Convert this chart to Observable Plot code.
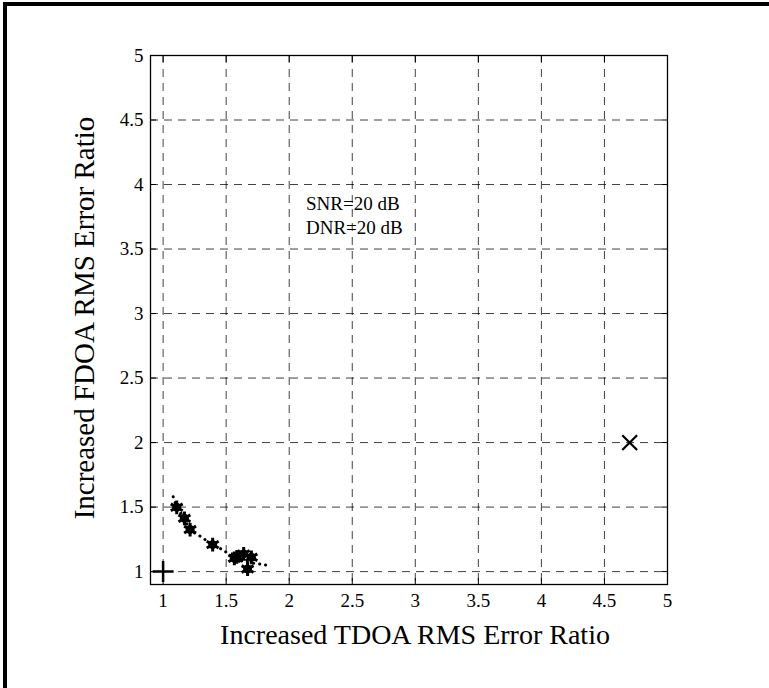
<!DOCTYPE html>
<html>
<head>
<meta charset="utf-8">
<script src="https://cdn.jsdelivr.net/npm/d3@7"></script>
<script src="https://cdn.jsdelivr.net/npm/@observablehq/plot@0.6"></script>
<style>
  html, body { margin: 0; padding: 0; background: #fff; }
  #wrap { position: relative; width: 769px; height: 688px; overflow: hidden; }
  #border { position: absolute; left: 3px; top: 2px; width: 800px; height: 800px;
            border-left: 4px solid #000; border-top: 4px solid #000; box-sizing: border-box; }
  #chart { position: absolute; left: 0; top: 0; }
</style>
</head>
<body>
<div id="wrap"><div id="border"></div><div id="chart"></div></div>
<script>
// Tick values (both axes)
const ticks = [1, 1.5, 2, 2.5, 3, 3.5, 4, 4.5, 5];

// Dotted trajectory curve
const curveX = [1.08, 1.11, 1.17, 1.21, 1.30, 1.39, 1.47, 1.565, 1.63, 1.72, 1.79, 1.86];
const curveY = [1.58, 1.50, 1.41, 1.33, 1.27, 1.21, 1.17, 1.105, 1.08, 1.065, 1.055, 1.045];

// Asterisk markers
const starX = [1.108, 1.169, 1.214, 1.393, 1.565, 1.585, 1.639, 1.70, 1.67];
const starY = [1.498, 1.413, 1.326, 1.209, 1.103, 1.115, 1.137, 1.111, 1.02];

// Plus marker (reference) and cross marker
const plusX = [1], plusY = [1];
const crossX = [4.7], crossY = [2];

// Annotation
const noteLines = ["SNR=20 dB", "DNR=20 dB"];
const noteX = [2.133, 2.133];
const noteY = [3.80, 3.62];

const curve = curveX.map((x, i) => ({x, y: curveY[i]}));
const stars = starX.map((x, i) => ({x, y: starY[i]}));
const plus = plusX.map((x, i) => ({x, y: plusY[i]}));
const cross = crossX.map((x, i) => ({x, y: crossY[i]}));
const notes = noteLines.map((t, i) => ({t, x: noteX[i], y: noteY[i]}));

const serif = "'Liberation Serif', 'Times New Roman', serif";
const fmt = d => String(d);

const chart = Plot.plot({
  width: 769,
  height: 688,
  marginLeft: 150,
  marginRight: 102,
  marginTop: 55,
  marginBottom: 104,
  style: {fontFamily: serif, background: "transparent", color: "#000"},
  x: {domain: [0.9, 5], ticks: ticks},
  y: {domain: [0.9, 5], ticks: ticks},
  marks: [
    Plot.gridX(ticks, {stroke: "#000", strokeOpacity: 0.75, strokeDasharray: "8,6"}),
    Plot.gridY(ticks, {stroke: "#000", strokeOpacity: 0.75, strokeDasharray: "8,6"}),
    Plot.frame({stroke: "#000", strokeWidth: 1.3}),
    Plot.axisX(ticks, {anchor: "bottom", tickSize: -6, text: null, label: null}),
    Plot.axisX(ticks, {anchor: "top", tickSize: -6, text: null, label: null}),
    Plot.axisY(ticks, {anchor: "left", tickSize: -6, text: null, label: null}),
    Plot.axisY(ticks, {anchor: "right", tickSize: -6, text: null, label: null}),
    Plot.axisX(ticks, {anchor: "bottom", tickSize: 0, tickPadding: 9, tickFormat: fmt, fontSize: 19, label: null}),
    Plot.axisY(ticks, {anchor: "left", tickSize: 0, tickPadding: 7, tickFormat: fmt, fontSize: 19, label: null}),
    Plot.text(["Increased TDOA RMS Error Ratio"], {frameAnchor: "bottom", dx: 6, dy: 51, fontSize: 28, text: d => d, textAnchor: "middle", lineAnchor: "middle"}),
    Plot.text(["Increased FDOA RMS Error Ratio"], {frameAnchor: "left", dx: -66, dy: -2, rotate: -90, fontSize: 29, text: d => d, textAnchor: "middle", lineAnchor: "middle"}),
    Plot.line(curve, {x: "x", y: "y", curve: "catmull-rom", stroke: "#000", strokeWidth: 3, strokeDasharray: "0.1,6", strokeLinecap: "round"}),
    Plot.dot(stars, {x: "x", y: "y", r: 4.5, fill: "#000", stroke: "none"}),
    Plot.dot(stars, {x: "x", y: "y", symbol: "asterisk", r: 6.5, stroke: "#000", strokeWidth: 3}),
    Plot.dot(plus, {x: "x", y: "y", symbol: "plus", r: 6.8, stroke: "#000", strokeWidth: 2.5}),
    Plot.dot(cross, {x: "x", y: "y", symbol: "times", r: 6.8, stroke: "#000", strokeWidth: 2.2}),
    Plot.text(notes, {x: "x", y: "y", text: "t", textAnchor: "start", lineAnchor: "bottom", fontSize: 19, fill: "#000"})
  ]
});
document.getElementById("chart").appendChild(chart);
</script>
</body>
</html>
